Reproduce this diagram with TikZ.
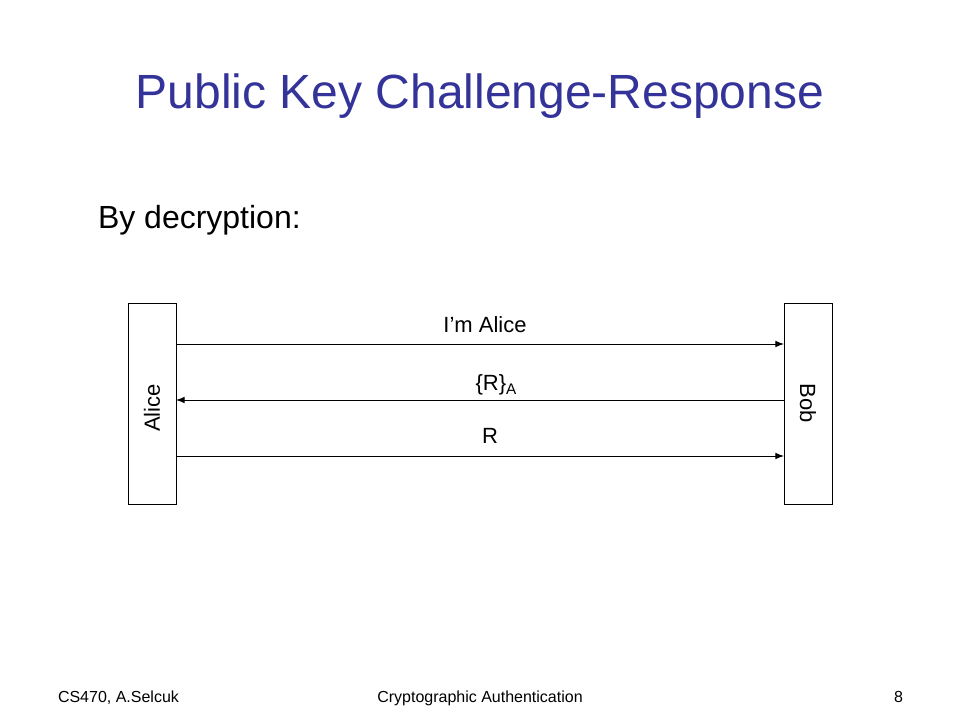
\documentclass[tikz,border=0pt]{standalone}
\usepackage{fontspec}
\setmainfont{Liberation Sans}
\usetikzlibrary{arrows.meta}
\definecolor{titleblue}{RGB}{51,51,153}
\begin{document}
\begin{tikzpicture}[x=0.75pt,y=-0.75pt,
  txt/.style={inner sep=0pt,outer sep=0pt},
  party/.style={draw=black,line width=0.75pt,minimum width=36pt,minimum height=150pt,inner sep=0pt,outer sep=0pt},
  msg/.style={line width=0.75pt,-{Latex[length=6.5pt,width=5pt]}},
  lbl/.style={txt,font=\fontsize{16.5}{18}\selectfont},
  foot/.style={txt,font=\fontsize{12}{14}\selectfont,anchor=base}]
\useasboundingbox (0,0) rectangle (960,720);
\fill[white] (0,0) rectangle (960,720);
% title
\node[txt,anchor=base,text=titleblue,font=\fontsize{36}{40}\selectfont] (title) at (480,109) {Public Key Challenge-Response};
\node[txt,anchor=base west,font=\fontsize{24}{28}\selectfont] (sub) at (98,229) {By decryption:};
% parties
\node[party] (alice) at (152,404) {};
\node[party] (bob) at (808,404) {};
\node[lbl,rotate=90] (alicelbl) at (152,408) {Alice};
\node[lbl,rotate=-90] (boblbl) at (808,403) {Bob};
% message heights
\coordinate (y1) at (0,344);
\coordinate (y2) at (0,400);
\coordinate (y3) at (0,456);
\draw[msg] (alice.east |- y1) -- (bob.west |- y1);
\draw[msg] (bob.west |- y2) -- (alice.east |- y2);
\draw[msg] (alice.east |- y3) -- (bob.west |- y3);
% labels
\node[lbl,anchor=base] (m1) at (485,332) {I’m Alice};
\node[lbl,anchor=base] (m2) at (496,390) {\{R\}\raisebox{-0.4ex}{\fontsize{11.5}{12}\selectfont A}};
\node[lbl,anchor=base] (m3) at (490,443) {R};
% footer
\node[foot,anchor=base west] (f1) at (58,702) {CS470, A.Selcuk};
\node[foot] (f2) at (480,702) {Cryptographic Authentication};
\node[foot,anchor=base east] (f3) at (903,702) {8};
\end{tikzpicture}
\end{document}
